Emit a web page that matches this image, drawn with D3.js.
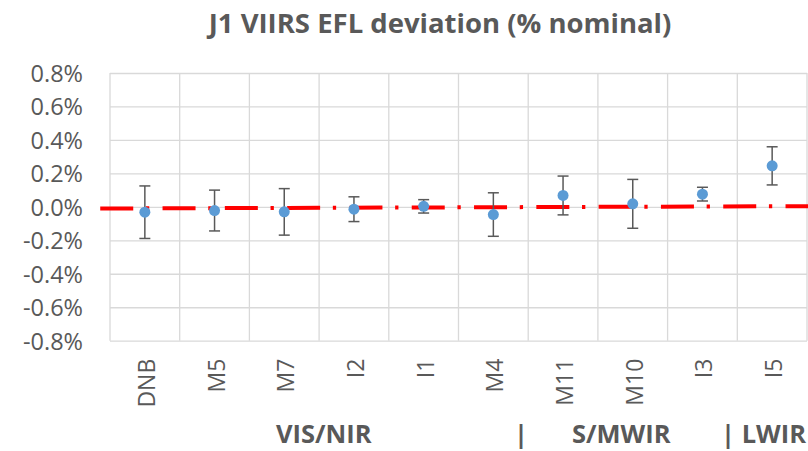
<!DOCTYPE html>
<html>
<head>
<meta charset="utf-8">
<script src="https://cdnjs.cloudflare.com/ajax/libs/d3/7.8.5/d3.min.js"></script>
<style>
    body { margin: 0; background: #fff; }
    svg { display: block; }
</style>
</head>
<body>
<svg id="chart" width="808" height="451"></svg>
<script>
// bands along the x axis
var categories = ["DNB", "M5", "M7", "I2", "I1", "M4", "M11", "M10", "I3", "I5"];
// EFL deviation, % of nominal
var deviation = [-0.032, -0.022, -0.030, -0.014, 0.003, -0.046, 0.068, 0.018, 0.076, 0.245];
// error bar half height, %
var errorBar = [0.157, 0.122, 0.139, 0.074, 0.040, 0.130, 0.116, 0.146, 0.041, 0.114];
// y ticks, %
var yTicks = [-0.8, -0.6, -0.4, -0.2, 0.0, 0.2, 0.4, 0.6, 0.8];
// nominal reference line (category index, %)
var refIndex = [-0.64, 9.52];
var refValue = [-0.010, 0.004];

var svg = d3.select("#chart"),
    margin = {top: 73, right: 1, bottom: 110, left: 110},
    width = 808 - margin.left - margin.right,
    height = 451 - margin.top - margin.bottom - 0.3,
    g = svg.append("g").attr("transform", "translate(" + margin.left + "," + margin.top + ")");

var x = d3.scaleBand()
    .domain(categories)
    .range([0, width])
    .padding(0);

var xi = d3.scaleLinear()
    .domain([-0.5, categories.length - 0.5])
    .range([0, width]);

var y = d3.scaleLinear()
    .domain([-0.8, 0.8])
    .range([height, 0]);

var fmt = function (d) {
    return (d < 0 ? "-" : "") + Math.abs(d).toFixed(1) + "%";
};

// horizontal grid + tick labels
var yAxis = g.append("g")
    .call(d3.axisLeft(y).tickValues(yTicks).tickSize(-width).tickPadding(27).tickFormat(fmt));
yAxis.select(".domain").remove();
yAxis.selectAll("line").attr("stroke", "#d9d9d9").attr("stroke-width", 1.3);
yAxis.selectAll("text")
    .attr("fill", "#595959")
    .attr("font-family", "Open Sans")
    .attr("font-size", 23.5)
    .attr("dy", "0.36em");

// vertical grid at band edges
g.append("g")
    .selectAll("line")
    .data(d3.range(categories.length + 1))
    .enter().append("line")
    .attr("x1", function (d) { return xi(d - 0.5); })
    .attr("x2", function (d) { return xi(d - 0.5); })
    .attr("y1", 0)
    .attr("y2", height)
    .attr("stroke", "#d9d9d9")
    .attr("stroke-width", 1.3);

// category labels, rotated
g.append("g")
    .selectAll("text")
    .data(categories)
    .enter().append("text")
    .attr("transform", function (d) {
        return "translate(" + (x(d) + x.bandwidth() / 2 + 10) + "," + (height + 18) + ") rotate(-90)";
    })
    .attr("text-anchor", "end")
    .attr("fill", "#595959")
    .attr("font-family", "Open Sans")
    .attr("font-size", 23)
    .text(function (d) { return d; });

// nominal line
var refData = refIndex.map(function (d, i) { return [d, refValue[i]]; });
g.append("path")
    .datum(refData)
    .attr("d", d3.line()
        .x(function (d) { return xi(d[0]); })
        .y(function (d) { return y(d[1]); }))
    .attr("fill", "none")
    .attr("stroke", "#ff0000")
    .attr("stroke-width", 4)
    .attr("stroke-dasharray", "33,12.7,3.3,13.3");

// error bars
var pts = categories.map(function (c, i) {
    return {cat: c, v: deviation[i], e: errorBar[i]};
});
var eb = g.append("g")
    .selectAll("g")
    .data(pts)
    .enter().append("g")
    .attr("stroke", "#595959")
    .attr("stroke-width", 1.5);
eb.append("line")
    .attr("x1", function (d) { return x(d.cat) + x.bandwidth() / 2; })
    .attr("x2", function (d) { return x(d.cat) + x.bandwidth() / 2; })
    .attr("y1", function (d) { return y(d.v + d.e); })
    .attr("y2", function (d) { return y(d.v - d.e); });
eb.selectAll(".cap")
    .data(function (d) { return [[d, d.v + d.e], [d, d.v - d.e]]; })
    .enter().append("line")
    .attr("class", "cap")
    .attr("x1", function (d) { return x(d[0].cat) + x.bandwidth() / 2 - 5.5; })
    .attr("x2", function (d) { return x(d[0].cat) + x.bandwidth() / 2 + 5.5; })
    .attr("y1", function (d) { return y(d[1]); })
    .attr("y2", function (d) { return y(d[1]); });

// markers
g.append("g")
    .selectAll("circle")
    .data(pts)
    .enter().append("circle")
    .attr("cx", function (d) { return x(d.cat) + x.bandwidth() / 2; })
    .attr("cy", function (d) { return y(d.v); })
    .attr("r", 5.5)
    .attr("fill", "#5b9bd5");

// title
svg.append("text")
    .attr("x", 440)
    .attr("y", 33)
    .attr("text-anchor", "middle")
    .attr("fill", "#595959")
    .attr("font-family", "Open Sans")
    .attr("font-weight", "bold")
    .attr("font-size", 27.5)
    .text("J1 VIIRS EFL deviation (% nominal)");

// band group labels under the axis
var groups = [
    {t: "VIS/NIR", x: 276, a: "start"},
    {t: "|", x: 514, a: "start"},
    {t: "S/MWIR", x: 572, a: "start"},
    {t: "| LWIR", x: 806, a: "end"}
];
svg.append("g")
    .selectAll("text")
    .data(groups)
    .enter().append("text")
    .attr("x", function (d) { return d.x; })
    .attr("y", 443)
    .attr("text-anchor", function (d) { return d.a; })
    .attr("fill", "#595959")
    .attr("font-family", "Open Sans")
    .attr("font-weight", "bold")
    .attr("font-size", 25.5)
    .text(function (d) { return d.t; });
</script>
</body>
</html>
